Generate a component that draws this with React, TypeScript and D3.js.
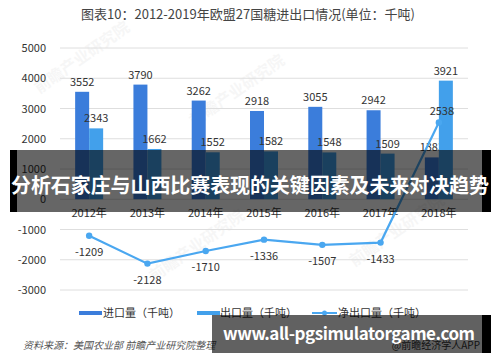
import * as d3 from "d3";
import { useEffect, useRef } from "react";

const years = ["2012年", "2013年", "2014年", "2015年", "2016年", "2017年", "2018年"];
const importValues = [3552, 3790, 3262, 2918, 3055, 2942, 1383];
const exportValues = [2343, 1662, 1552, 1582, 1548, 1509, 3921];
const netValues = [-1209, -2128, -1710, -1336, -1507, -1433, 2538];
const yTicks = [5000, 4000, 3000, 2000, 1000, 0, -1000, -2000, -3000];
const seriesNames = ["进口量（千吨）", "出口量（千吨）", "净出口量（千吨）"];

const importColor = "#3b7ddb";
const exportColor = "#42a0eb";
const netColor = "#4aa7f0";
const font = "'Noto Sans CJK SC', 'Noto Sans', sans-serif";

export default function App() {
    const svgRef = useRef<SVGSVGElement>(null);
    const width = 500;
    const height = 362;

    useEffect(() => {
        if (svgRef.current) {
            drawChart();
        }
    }, [svgRef]);

    const drawChart = () => {
        const svg = d3.select(svgRef.current);
        svg.selectAll("*").remove();

        svg.append("rect").attr("width", width).attr("height", height).attr("fill", "#fff");

        // title
        svg.append("text")
            .attr("x", 248)
            .attr("y", 19)
            .attr("text-anchor", "middle")
            .attr("font-size", 13)
            .attr("fill", "#444")
            .text("图表10：2012-2019年欧盟27国糖进出口情况(单位：千吨)");

        // faint watermarks
        const marks = [[85, 62], [240, 95], [200, 250], [400, 235]];
        marks.forEach(([x, y]) => {
            svg.append("text")
                .attr("transform", `translate(${x},${y}) rotate(-35)`)
                .attr("text-anchor", "middle")
                .attr("font-size", 16)
                .attr("font-weight", "bold")
                .attr("fill", "#000")
                .attr("opacity", 0.03)
                .text("前瞻产业研究院");
        });

        const scaleX = d3.scaleBand().domain(years).range([60, 468]);
        const scaleY = d3.scaleLinear().domain([-3000, 5000]).range([290, 48]);
        const barW = 14;

        // grid + y labels
        const grid = svg.append("g");
        yTicks.forEach((t) => {
            grid.append("line")
                .attr("x1", 60)
                .attr("x2", 468)
                .attr("y1", scaleY(t))
                .attr("y2", scaleY(t))
                .attr("stroke", "#dedede")
                .attr("stroke-width", 1);
            grid.append("text")
                .attr("x", 46)
                .attr("y", scaleY(t) + 4)
                .attr("text-anchor", "end")
                .attr("font-size", 11)
                .attr("fill", "#333")
                .text(`${t}`);
        });

        // bars
        const bars = svg.append("g");
        years.forEach((year, i) => {
            const cx = scaleX(year)! + scaleX.bandwidth() / 2;
            const vals = [importValues[i], exportValues[i]];
            const colors = [importColor, exportColor];
            vals.forEach((v, j) => {
                const x = cx - barW + j * barW;
                bars.append("rect")
                    .attr("x", x)
                    .attr("y", scaleY(v))
                    .attr("width", barW)
                    .attr("height", scaleY(0) - scaleY(v))
                    .attr("fill", colors[j]);
                bars.append("text")
                    .attr("x", x + barW / 2)
                    .attr("y", scaleY(v) - 6)
                    .attr("text-anchor", "middle")
                    .attr("font-size", 11)
                    .attr("fill", "#333")
                    .text(`${v}`);
            });
            // x labels
            svg.append("text")
                .attr("x", cx)
                .attr("y", scaleY(0) + 18)
                .attr("text-anchor", "middle")
                .attr("font-size", 11)
                .attr("fill", "#333")
                .text(year);
        });

        // net export line
        const line = d3
            .line<number>()
            .x((d, i) => scaleX(years[i])! + scaleX.bandwidth() / 2)
            .y((d) => scaleY(d));
        svg.append("path")
            .datum(netValues)
            .attr("d", line)
            .attr("fill", "none")
            .attr("stroke", netColor)
            .attr("stroke-width", 2.2);
        netValues.forEach((v, i) => {
            const cx = scaleX(years[i])! + scaleX.bandwidth() / 2;
            svg.append("circle")
                .attr("cx", cx)
                .attr("cy", scaleY(v))
                .attr("r", 3.2)
                .attr("fill", netColor);
            svg.append("text")
                .attr("x", v < 0 ? cx : cx + 3)
                .attr("y", v < 0 ? scaleY(v) + 20 : scaleY(v) - 7)
                .attr("text-anchor", "middle")
                .attr("font-size", 11)
                .attr("fill", "#333")
                .text(`${v}`);
        });

        // legend
        const legend = svg.append("g").attr("font-size", 11).attr("fill", "#333");
        const ly = 313;
        legend.append("rect").attr("x", 79).attr("y", ly - 2).attr("width", 23).attr("height", 4).attr("fill", importColor);
        legend.append("text").attr("x", 103).attr("y", ly + 4).text(seriesNames[0]);
        legend.append("rect").attr("x", 197).attr("y", ly - 2).attr("width", 23).attr("height", 4).attr("fill", exportColor);
        legend.append("text").attr("x", 220).attr("y", ly + 4).text(seriesNames[1]);
        legend.append("line").attr("x1", 312).attr("x2", 337).attr("y1", ly).attr("y2", ly)
            .attr("stroke", netColor).attr("stroke-width", 2);
        legend.append("circle").attr("cx", 324.5).attr("cy", ly).attr("r", 2.5).attr("fill", netColor);
        legend.append("text").attr("x", 338).attr("y", ly + 4).text(seriesNames[2]);

        // source
        svg.append("text")
            .attr("x", 23)
            .attr("y", 349)
            .attr("font-size", 10)
            .attr("font-style", "italic")
            .attr("fill", "#555")
            .text("资料来源：美国农业部 前瞻产业研究院整理");
        svg.append("text")
            .attr("x", 480)
            .attr("y", 349)
            .attr("text-anchor", "end")
            .attr("font-size", 10)
            .attr("fill", "#333")
            .text("@前瞻经济学人APP");

        // middle banner
        svg.append("rect").attr("x", 10).attr("y", 150).attr("width", 7).attr("height", 62).attr("fill", "#000");
        svg.append("rect").attr("x", 482).attr("y", 150).attr("width", 9).attr("height", 62).attr("fill", "#000");
        svg.append("rect").attr("x", 17).attr("y", 150).attr("width", 465).attr("height", 62).attr("fill", "rgba(0,0,0,0.6)");
        svg.append("text")
            .attr("x", 250)
            .attr("y", 193)
            .attr("text-anchor", "middle")
            .attr("font-size", 20)
            .attr("font-weight", "bold")
            .attr("fill", "#fff")
            .attr("textLength", 478)
            .text("分析石家庄与山西比赛表现的关键因素及未来对决趋势");

        // bottom banner
        svg.append("rect").attr("x", 482).attr("y", 315).attr("width", 9).attr("height", 38).attr("fill", "#000");
        svg.append("rect").attr("x", 212).attr("y", 315).attr("width", 270).attr("height", 38).attr("fill", "rgba(0,0,0,0.62)");
        svg.append("text")
            .attr("x", 223)
            .attr("y", 340)
            .attr("font-size", 17)
            .attr("font-weight", "bold")
            .attr("fill", "#fff")
            .attr("textLength", 252)
            .text("www.all-pgsimulatorgame.com");
    };

    return (
        <svg
            ref={svgRef}
            width={width}
            height={height}
            style={{ position: "absolute", left: 0, top: 0, fontFamily: font }}
        />
    );
}
